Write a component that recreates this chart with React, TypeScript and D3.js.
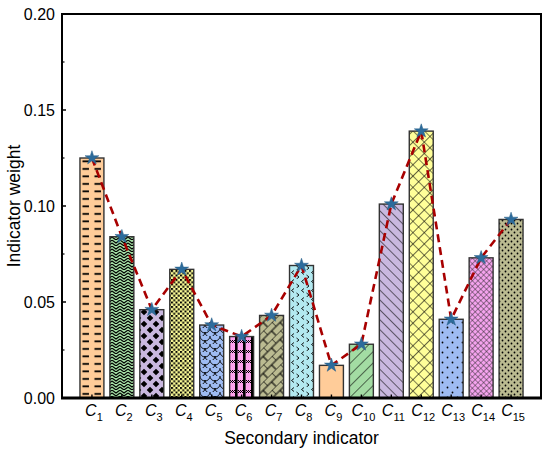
import React from 'react';
import * as d3 from 'd3';

const subscripts = ['1','2','3','4','5','6','7','8','9','10','11','12','13','14','15'];
const weights = [0.125, 0.084, 0.046, 0.067, 0.038, 0.032, 0.043, 0.069, 0.017, 0.028, 0.101, 0.139, 0.041, 0.073, 0.093];
const fills = ['#FFCC99', '#A3DCA3', '#C9B8DF', '#FFFF99', '#9EBBF2', '#FFA3EE', '#BBBB91', '#B3E9F0', '#FFCC99', '#A3DCA3', '#C9B8DF', '#FFFF99', '#9EBBF2', '#F5A3EE', '#BBBB91'];
const patternIds = ['p1','p2','p3','p4','p5','p6','p7','p8','','p10','p11','p12','p13','p14','p15'];
const yTicks = [0, 0.05, 0.1, 0.15, 0.2];
const yMinor = [0.025, 0.075, 0.125, 0.175];

const W = 550, H = 453;
const L = 62, R = 541, T = 14, B = 398;

function Patterns({ x0 }: { x0: number }) {
  const k = '#000';
  return (
    <defs>
      <pattern id="p1" patternUnits="userSpaceOnUse" x={x0} y="0" width="12" height="7.5">
        <rect x="2.5" y="3" width="6.5" height="1.8" fill={k} />
      </pattern>
      <pattern id="p2" patternUnits="userSpaceOnUse" width="8" height="6">
        <path d="M0,0 L4,3 L8,0 M0,3 L4,6 L8,3" stroke={k} strokeWidth="1.1" fill="none" />
      </pattern>
      <pattern id="p3" patternUnits="userSpaceOnUse" width="12" height="12">
        <path d="M0,-3.3 L3.3,0 L0,3.3 L-3.3,0Z M12,-3.3 L15.3,0 L12,3.3 L8.7,0Z M0,8.7 L3.3,12 L0,15.3 L-3.3,12Z M12,8.7 L15.3,12 L12,15.3 L8.7,12Z M6,2.7 L9.3,6 L6,9.3 L2.7,6Z" fill={k} />
      </pattern>
      <pattern id="p4" patternUnits="userSpaceOnUse" width="4.5" height="4.5">
        <rect x="0" y="0" width="2" height="2" fill={k} />
        <rect x="2.25" y="2.25" width="2" height="2" fill={k} />
      </pattern>
      <pattern id="p5" patternUnits="userSpaceOnUse" width="10" height="8">
        <path d="M0,0 A5,5 0 0 0 10,0 M-5,4 A5,5 0 0 0 5,4 M5,4 A5,5 0 0 0 15,4" stroke={k} strokeWidth="0.9" fill="none" />
      </pattern>
      <pattern id="p6" patternUnits="userSpaceOnUse" width="8" height="10">
        <rect x="3" y="0" width="2.6" height="10" fill={k} />
        <rect x="0" y="0" width="1" height="1" fill={k} />
        <rect x="2" y="0" width="1" height="1" fill={k} />
        <rect x="6" y="0" width="1" height="1" fill={k} />
        <rect x="1" y="1" width="1" height="1" fill={k} />
        <rect x="7" y="1" width="1" height="1" fill={k} />
        <rect x="0" y="2" width="1" height="1" fill={k} />
        <rect x="2" y="2" width="1" height="1" fill={k} />
        <rect x="6" y="2" width="1" height="1" fill={k} />
      </pattern>
      <pattern id="p7" patternUnits="userSpaceOnUse" width="12" height="12" patternTransform="rotate(-45)">
        <path d="M0,0 H12 M0,6 H12 M0,0 V6 M6,6 V12" stroke={k} strokeWidth="1.1" fill="none" />
      </pattern>
      <pattern id="p8" patternUnits="userSpaceOnUse" width="10" height="9">
        <path d="M4,0.5 L1.5,2.5 L4,4.5 M6.5,5 L9,7 L6.5,9" stroke={k} strokeWidth="0.9" fill="none" />
      </pattern>
      <pattern id="p10" patternUnits="userSpaceOnUse" width="8" height="8" patternTransform="rotate(45)">
        <line x1="0" y1="0" x2="0" y2="8" stroke={k} strokeWidth="1.1" />
      </pattern>
      <pattern id="p11" patternUnits="userSpaceOnUse" width="7" height="7" patternTransform="rotate(-45)">
        <line x1="0" y1="0" x2="0" y2="7" stroke={k} strokeWidth="1.1" />
      </pattern>
      <pattern id="p12" patternUnits="userSpaceOnUse" width="8" height="8" patternTransform="rotate(45)">
        <path d="M0,0 V8 M0,0 H8" stroke={k} strokeWidth="1.2" fill="none" />
      </pattern>
      <pattern id="p13" patternUnits="userSpaceOnUse" width="10" height="10">
        <circle cx="2.5" cy="2.5" r="0.9" fill={k} />
        <circle cx="7.5" cy="7.5" r="0.9" fill={k} />
      </pattern>
      <pattern id="p14" patternUnits="userSpaceOnUse" width="4" height="4" patternTransform="rotate(45)">
        <path d="M0,0 V4 M0,0 H4" stroke="#222" strokeWidth="0.9" fill="none" />
      </pattern>
      <pattern id="p15" patternUnits="userSpaceOnUse" width="6" height="6">
        <circle cx="1.5" cy="1.5" r="0.9" fill={k} />
        <circle cx="4.5" cy="4.5" r="0.9" fill={k} />
      </pattern>
    </defs>
  );
}

export default function App() {
  const x = d3.scaleLinear().domain([0, 16]).range([L, R]);
  const y = d3.scaleLinear().domain([0, 0.2]).range([B, T]);
  const bw = x(0.8) - x(0);
  const pts: [number, number][] = weights.map((v, i) => [x(i + 1), y(v)]);
  const line = d3.line()(pts) || '';
  const star = d3.symbol().type(d3.symbolStar).size(60)() || '';
  const font = 'Arial, "Liberation Sans", sans-serif';

  return (
    <svg width={W} height={H} viewBox={`0 0 ${W} ${H}`} style={{ position: 'absolute', left: 0, top: 0, background: '#fff' }} fontFamily={font}>
      <Patterns x0={x(1) - bw / 2} />
      {weights.map((v, i) => {
        const bx = x(i + 1) - bw / 2;
        const by = y(v);
        const bh = y(0) - y(v);
        return (
          <g key={i}>
            <rect x={bx} y={by} width={bw} height={bh} fill={fills[i]} />
            {patternIds[i] && <rect x={bx} y={by} width={bw} height={bh} fill={`url(#${patternIds[i]})`} />}
            <rect x={bx} y={by} width={bw} height={bh} fill="none" stroke="#333" strokeWidth={1.4} />
          </g>
        );
      })}
      <path d={line} fill="none" stroke="#A80000" strokeWidth={2.6} strokeDasharray="8,5" />
      {pts.map((p, i) => (
        <path key={i} d={star} transform={`translate(${p[0]},${p[1]})`} fill="#2D6C9C" stroke="#275E88" strokeWidth={0.5} />
      ))}
      <rect x={L} y={T} width={R - L} height={B - T} fill="none" stroke="#000" strokeWidth={2} />
      <line x1={L - 1} x2={R + 1} y1={B} y2={B} stroke="#000" strokeWidth={2.8} />
      {yTicks.map((t) => (
        <g key={t}>
          <line x1={L} x2={L + 4} y1={y(t)} y2={y(t)} stroke="#000" strokeWidth={1.5} />
          <text x={L - 7} y={y(t)} dy="0.36em" textAnchor="end" fontSize={16}>{t.toFixed(2)}</text>
        </g>
      ))}
      {yMinor.map((t) => (
        <line key={t} x1={L} x2={L + 2.5} y1={y(t)} y2={y(t)} stroke="#000" strokeWidth={1.2} />
      ))}
      {subscripts.map((s, i) => (
        <g key={s}>
          <line x1={x(i + 1)} x2={x(i + 1)} y1={B} y2={B - 3.5} stroke="#000" strokeWidth={1.4} />
          <text x={x(i + 1) + 2} y={416} textAnchor="middle" fontSize={16}>
            <tspan fontStyle="italic">C</tspan>
            <tspan fontSize={11} dy={5}>{s}</tspan>
          </text>
        </g>
      ))}
      <text x={(L + R) / 2} y={444} textAnchor="middle" fontSize={17.5}>Secondary indicator</text>
      <text transform={`translate(20,${(T + B) / 2}) rotate(-90)`} textAnchor="middle" fontSize={17.5}>Indicator weight</text>
    </svg>
  );
}
